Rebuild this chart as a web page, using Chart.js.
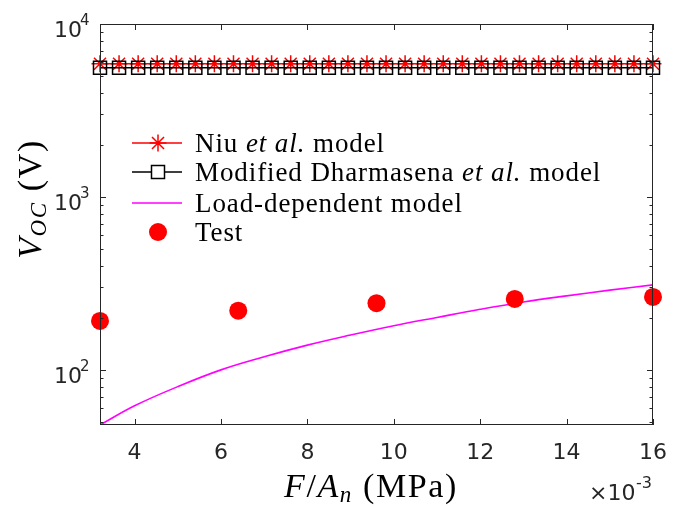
<!DOCTYPE html>
<html>
<head>
<meta charset="utf-8">
<script src="https://cdn.jsdelivr.net/npm/chart.js@4/dist/chart.umd.min.js"></script>
<style>
html,body{margin:0;padding:0;background:#fff;}
canvas{display:block;}
</style>
</head>
<body>
<canvas id="c" width="673" height="506"></canvas>
<script>
// ---- data ----
const modelX = [3.200, 3.641, 4.083, 4.524, 4.966, 5.407, 5.848, 6.290, 6.731, 7.172,
                7.614, 8.055, 8.497, 8.938, 9.379, 9.821, 10.262, 10.703, 11.145, 11.586,
                12.028, 12.469, 12.910, 13.352, 13.793, 14.234, 14.676, 15.117, 15.559, 16.000];
const niuV = [5890, 5890, 5890, 5890, 5890, 5890, 5890, 5890, 5890, 5890,
              5890, 5890, 5890, 5890, 5890, 5890, 5890, 5890, 5890, 5890,
              5890, 5890, 5890, 5890, 5890, 5890, 5890, 5890, 5890, 5890];
const dharmV = [5585, 5585, 5585, 5585, 5585, 5585, 5585, 5585, 5585, 5585,
                5585, 5585, 5585, 5585, 5585, 5585, 5585, 5585, 5585, 5585,
                5585, 5585, 5585, 5585, 5585, 5585, 5585, 5585, 5585, 5585];
const loadX = [3.2, 4.0, 5.0, 6.0, 7.0, 8.0, 9.0, 10.0, 11.0, 12.0, 13.0, 14.0, 15.0, 16.0];
const loadV = [48, 62, 80, 100, 119, 139, 159, 180, 201, 224, 247, 268, 289, 310];
const testX = [3.2, 6.4, 9.6, 12.8, 16.0];
const testV = [192, 220, 243, 257, 264];
const xTickLabels = [4, 6, 8, 10, 12, 14, 16];
const yTickExps = [2, 3, 4];
const legendLabels = ["Niu et al. model", "Modified Dharmasena et al. model", "Load-dependent model", "Test"];

const AX = '#262626';
const SERIF = '"Liberation Serif", "Times New Roman", serif';
const SANS = '"DejaVu Sans", sans-serif';

function pts(xs, ys){ return xs.map((x,i)=>({x:x, y:ys[i]})); }

function fontOf(p){ return (p.italic?'italic ':'') + p.size + 'px ' + (p.family||SERIF); }

// draws a run of text parts; extra letter spacing (ls) widens text slightly without stretching glyphs
function drawRich(ctx, parts, x, y, targetW, align, lsFixed){
  ctx.letterSpacing = '0px';
  let W = 0, n = 0;
  const ws = parts.map(p=>{ ctx.font = fontOf(p); const w = ctx.measureText(p.t).width; W += w; n += p.t.length; return w; });
  let ls = (lsFixed != null) ? lsFixed : (targetW ? (targetW - W) / n : 0);
  ls = Math.max(0, Math.min(ls, 1.6));
  const total = W + ls * n;
  let cx = x + (align === 'center' ? -total/2 : (align === 'right' ? -total : 0));
  ctx.textBaseline = 'alphabetic';
  ctx.textAlign = 'left';
  parts.forEach((p,i)=>{
    ctx.font = fontOf(p);
    ctx.letterSpacing = ls + 'px';
    ctx.fillText(p.t, cx, y + (p.dy||0));
    cx += ws[i] + ls * p.t.length;
  });
  ctx.letterSpacing = '0px';
  return ls;
}

function star(ctx, x, y, r){
  ctx.beginPath();
  ctx.moveTo(x-r, y); ctx.lineTo(x+r, y);
  ctx.moveTo(x, y-r); ctx.lineTo(x, y+r);
  const d = r*Math.SQRT1_2;
  ctx.moveTo(x-d, y-d); ctx.lineTo(x+d, y+d);
  ctx.moveTo(x-d, y+d); ctx.lineTo(x+d, y-d);
  ctx.stroke();
}

const decor = {
  id: 'decor',
  afterDatasetsDraw(chart){
    const ctx = chart.ctx, ca = chart.chartArea;
    const xs = chart.scales.x, ys = chart.scales.y;
    ctx.save();
    ctx.strokeStyle = AX; ctx.fillStyle = AX; ctx.lineWidth = 1;
    // box
    ctx.strokeRect(ca.left + 0.5, ca.top + 0.5, ca.right - ca.left - 1, ca.bottom - ca.top - 1);
    // x ticks
    ctx.beginPath();
    xTickLabels.forEach(v=>{
      const px = Math.round(xs.getPixelForValue(v)) + 0.5;
      ctx.moveTo(px, ca.bottom); ctx.lineTo(px, ca.bottom - 6);
      ctx.moveTo(px, ca.top); ctx.lineTo(px, ca.top + 6);
    });
    // y ticks
    yTickExps.forEach(e=>{
      const py = Math.round(ys.getPixelForValue(Math.pow(10,e))) + 0.5;
      ctx.moveTo(ca.left, py); ctx.lineTo(ca.left + 6, py);
      ctx.moveTo(ca.right, py); ctx.lineTo(ca.right - 6, py);
    });
    [1,2,3].forEach(e=>{
      for (let m=2; m<=9; m++){
        const v = m*Math.pow(10,e);
        if (v < ys.min || v > ys.max) continue;
        const py = Math.round(ys.getPixelForValue(v)) + 0.5;
        ctx.moveTo(ca.left, py); ctx.lineTo(ca.left + 3.5, py);
        ctx.moveTo(ca.right, py); ctx.lineTo(ca.right - 3.5, py);
      }
    });
    ctx.stroke();
    // x tick labels
    ctx.font = '22px ' + SANS;
    ctx.textAlign = 'center'; ctx.textBaseline = 'middle';
    xTickLabels.forEach(v=>{
      ctx.fillText(String(v), xs.getPixelForValue(v), ca.bottom + 28);
    });
    // y tick labels
    yTickExps.forEach(e=>{
      const py = ys.getPixelForValue(Math.pow(10,e));
      ctx.textBaseline = 'middle';
      ctx.textAlign = 'right';
      ctx.font = '22px ' + SANS;
      ctx.fillText('10', ca.left - 18, py + 7);
      ctx.textAlign = 'left';
      ctx.font = '15px ' + SANS;
      ctx.fillText(String(e), ca.left - 20, py - 3);
    });
    // x10^-3
    ctx.textAlign = 'left'; ctx.textBaseline = 'middle';
    ctx.font = '22px ' + SANS;
    ctx.fillText('\u00d710', 589, 494);
    ctx.font = '16px ' + SANS;
    ctx.fillText('-3', 636, 484);
    // axis titles
    ctx.fillStyle = '#000';
    drawRich(ctx, [
      {t:'F', italic:true, size:34},
      {t:'/', size:34},
      {t:'A', italic:true, size:34},
      {t:'n', italic:true, size:23, dy:5},
      {t:' (MPa)', size:34}
    ], 371, 497, 188, 'center');
    ctx.save();
    ctx.translate(41, 199);
    ctx.rotate(-Math.PI/2);
    drawRich(ctx, [
      {t:'V', italic:true, size:34},
      {t:'OC', italic:true, size:23, dy:5},
      {t:' (V)', size:34}
    ], 0, 0, 122, 'center');
    ctx.restore();
    // legend
    const rows = [143, 172, 203, 232];
    const lx0 = 132, lx1 = 182, mx = 158, tx = 195;
    ctx.lineWidth = 1.5;
    ctx.strokeStyle = '#ff0000';
    ctx.beginPath(); ctx.moveTo(lx0, rows[0]); ctx.lineTo(lx1, rows[0]); ctx.stroke();
    star(ctx, mx, rows[0], 8.5);
    ctx.strokeStyle = '#000';
    ctx.beginPath(); ctx.moveTo(lx0, rows[1]); ctx.lineTo(mx-6.5, rows[1]); ctx.moveTo(mx+6.5, rows[1]); ctx.lineTo(lx1, rows[1]); ctx.stroke();
    ctx.strokeRect(mx-6.5, rows[1]-6.5, 13, 13);
    ctx.strokeStyle = '#ff00ff';
    ctx.beginPath(); ctx.moveTo(lx0, rows[2]); ctx.lineTo(lx1, rows[2]); ctx.stroke();
    ctx.fillStyle = '#ff0000';
    ctx.beginPath(); ctx.arc(mx, rows[3], 9, 0, Math.PI*2); ctx.fill();
    // legend texts
    ctx.fillStyle = '#000';
    const LS = 27;
    const r1 = [{t:'Niu ', size:LS},{t:'et al.', italic:true, size:LS},{t:' model', size:LS}];
    const r2 = [{t:'Modified Dharmasena ', size:LS},{t:'et al.', italic:true, size:LS},{t:' model', size:LS}];
    const r3 = [{t:'Load-dependent model', size:LS}];
    const r4 = [{t:'Test', size:LS}];
    const ls = drawRich(ctx, r1, tx, rows[0] + 9, 190, 'left');
    drawRich(ctx, r2, tx, rows[1] + 9, null, 'left', ls);
    drawRich(ctx, r3, tx, rows[2] + 9, null, 'left', ls);
    drawRich(ctx, r4, tx, rows[3] + 9, null, 'left', ls);
    ctx.restore();
  }
};

new Chart(document.getElementById('c'), {
  type: 'line',
  data: {
    datasets: [
      {
        label: legendLabels[0],
        data: pts(modelX, niuV),
        borderColor: '#ff0000', backgroundColor: '#ff0000',
        borderWidth: 1.5, pointStyle: 'star', pointRadius: 8.5,
        pointBorderWidth: 1.5, pointBorderColor: '#ff0000',
        order: 2, clip: false
      },
      {
        label: legendLabels[1],
        data: pts(modelX, dharmV),
        borderColor: '#000000', backgroundColor: 'rgba(0,0,0,0)',
        borderWidth: 1.5, pointStyle: 'rect', pointRadius: 9.2,
        pointBorderWidth: 1.5, pointBorderColor: '#000000',
        pointBackgroundColor: 'rgba(0,0,0,0)',
        order: 1, clip: false
      },
      {
        label: legendLabels[2],
        data: pts(loadX, loadV),
        borderColor: '#ff00ff', borderWidth: 1.6,
        pointRadius: 0, tension: 0.4,
        order: 3
      },
      {
        label: legendLabels[3],
        data: pts(testX, testV),
        showLine: false,
        pointStyle: 'circle', pointRadius: 9,
        pointBackgroundColor: '#ff0000', pointBorderColor: '#ff0000', pointBorderWidth: 0,
        order: 0, clip: false
      }
    ]
  },
  options: {
    responsive: false,
    devicePixelRatio: 1,
    animation: false,
    layout: { padding: { left: 100, right: 20, top: 24, bottom: 81 } },
    plugins: { legend: { display: false }, tooltip: { enabled: false } },
    scales: {
      x: { type: 'linear', min: 3.2, max: 16, display: false },
      y: { type: 'logarithmic', min: 48, max: 10000, display: false }
    }
  },
  plugins: [decor]
});
</script>
</body>
</html>
